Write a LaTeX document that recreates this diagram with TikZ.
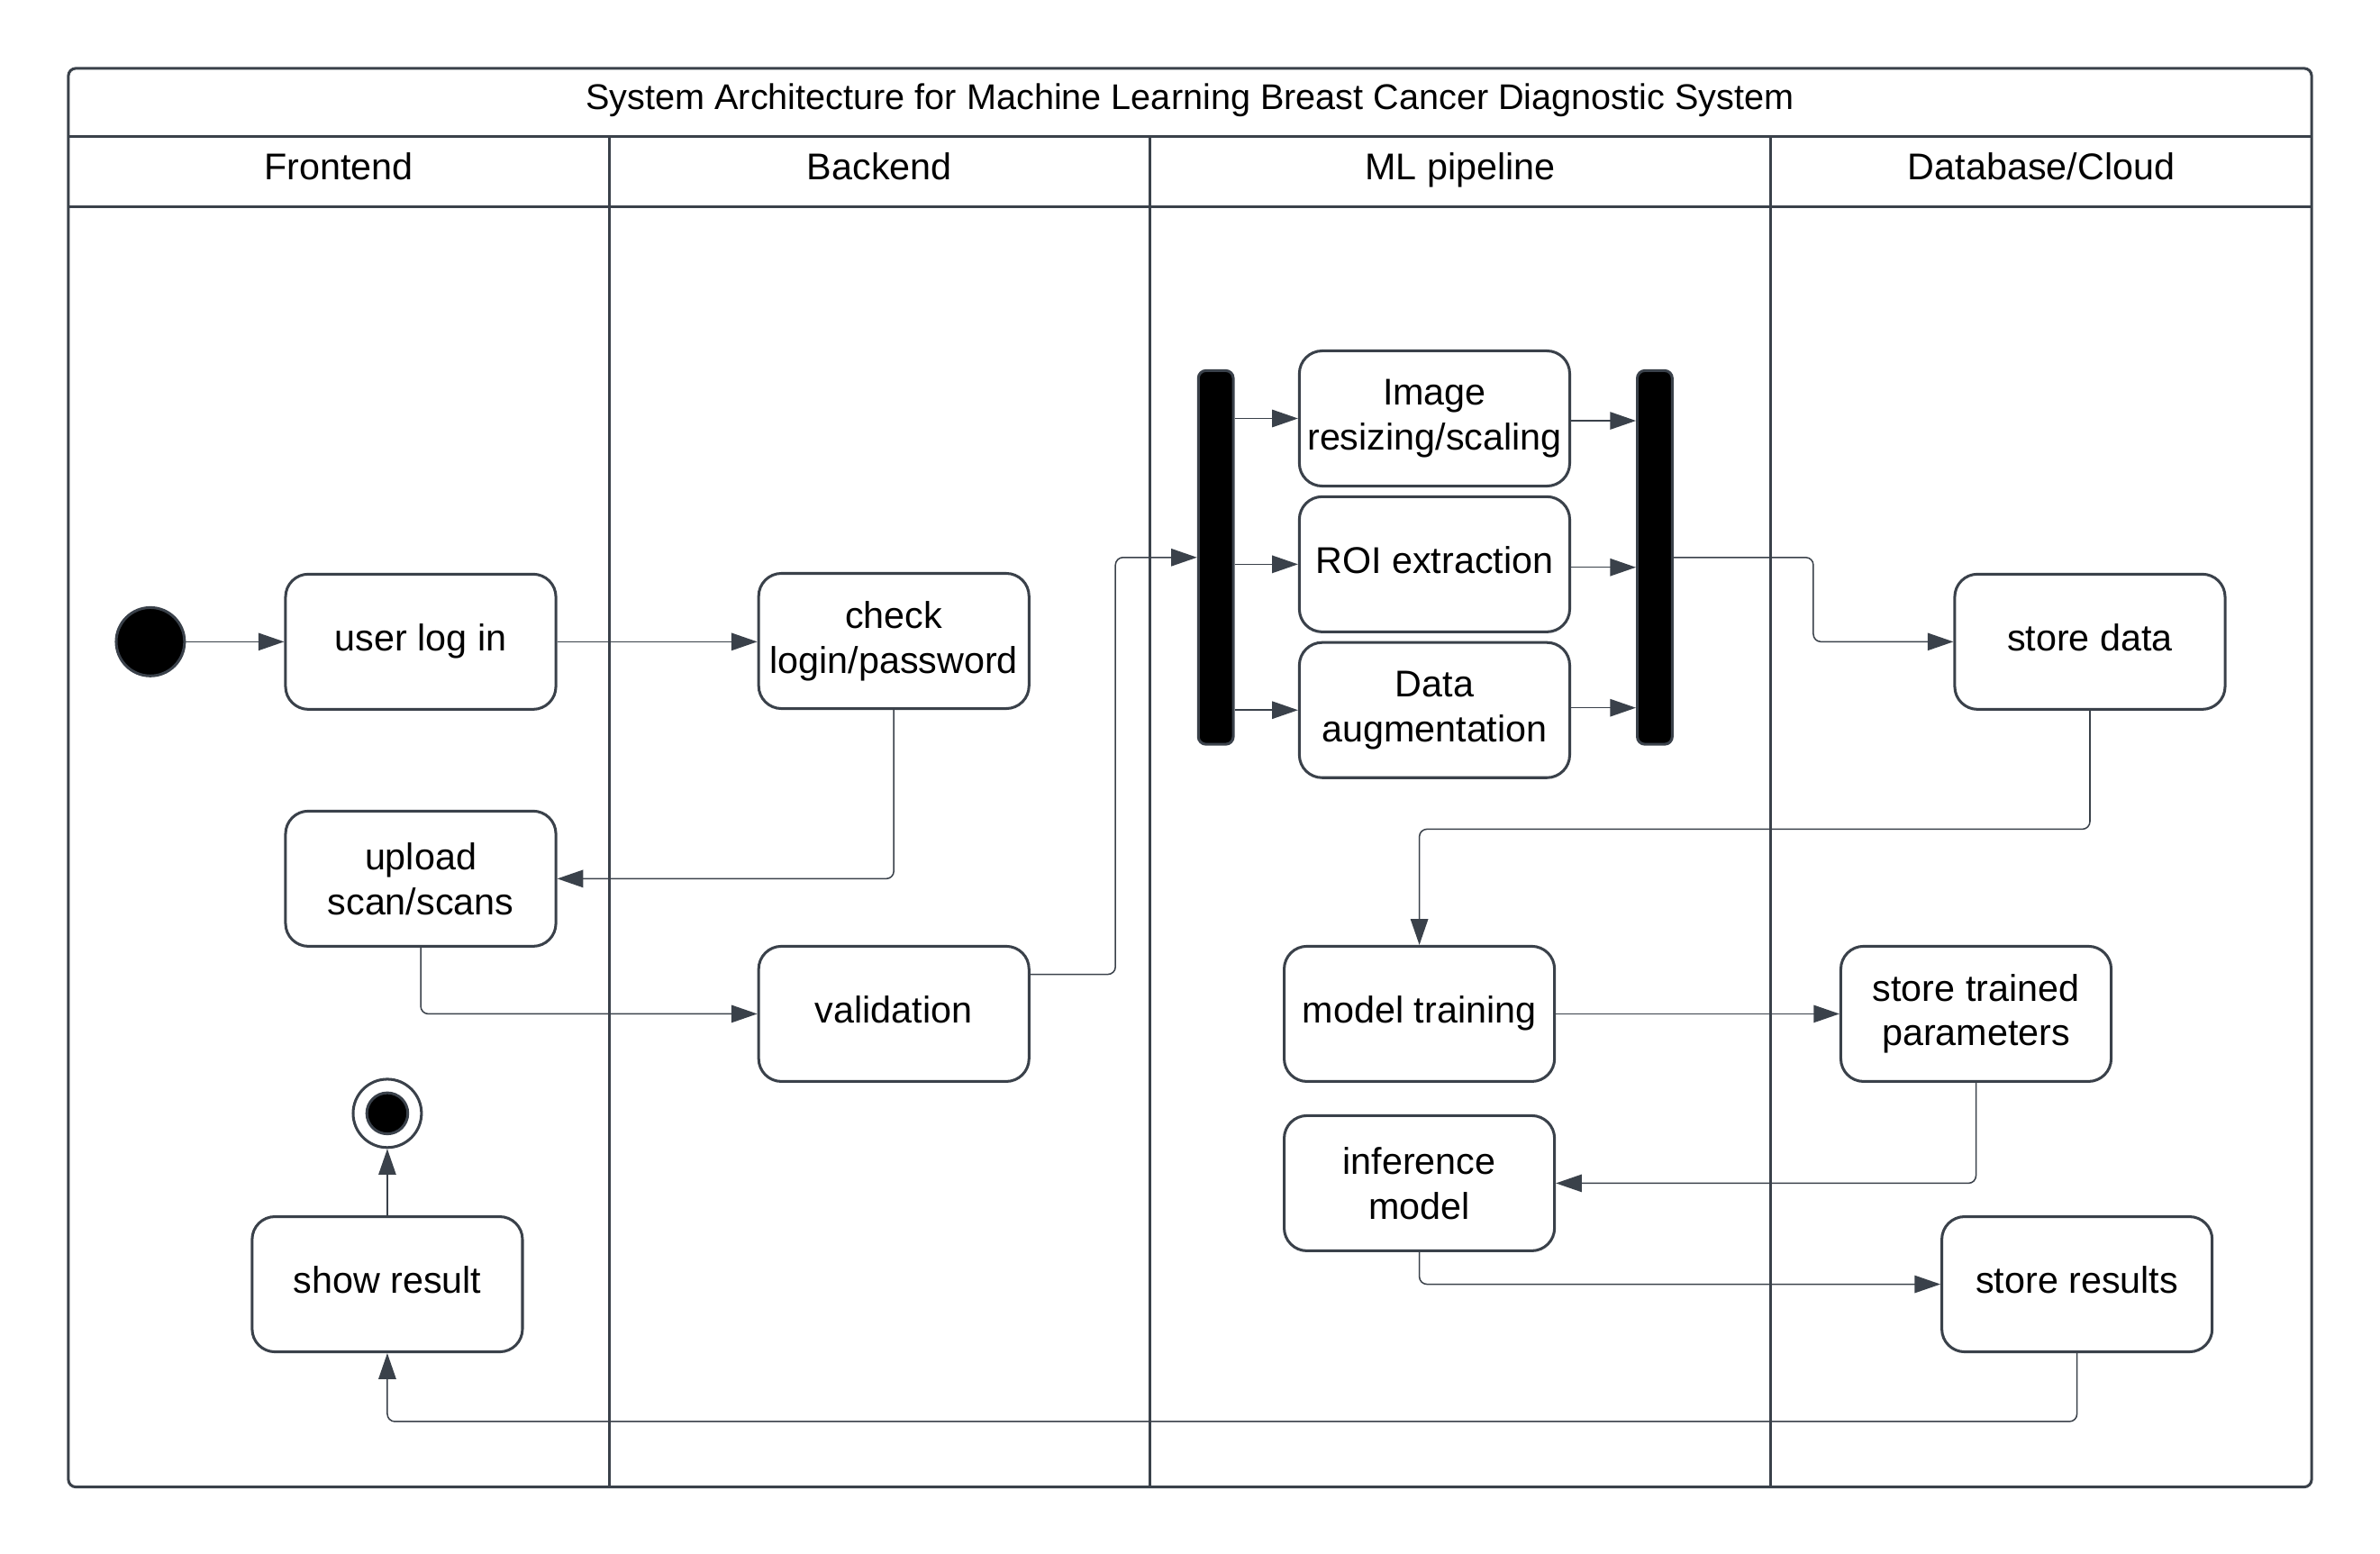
\documentclass[tikz,border=0pt]{standalone}
\usepackage{fontspec}
\setmainfont{Liberation Sans}
\usetikzlibrary{arrows.meta,calc}
\definecolor{lc}{HTML}{3A414A}
\begin{document}
\begin{tikzpicture}[x=1pt,y=-1pt,
  every node/.style={font=\fontsize{24.5}{29.5}\selectfont, text=black},
  box/.style={draw=lc, line width=1.8pt, rounded corners=15pt, minimum width=178pt, minimum height=89pt, align=center, fill=white, inner sep=2pt},
  one/.style={text height=17.5pt, text depth=5.5pt},
  bar/.style={draw=lc, line width=1.8pt, fill=black, rounded corners=5pt, minimum width=23pt, minimum height=246pt, inner sep=0pt},
  conn/.style={draw=lc, line width=0.9pt, rounded corners=5pt, -{Triangle[length=17pt,width=11.5pt]}},
  lane/.style={draw=lc, line width=1.8pt},
  hdr/.style={inner sep=0pt, text height=17.5pt, text depth=5pt}]
\useasboundingbox (0,0) rectangle (1567,1023.1);
% frame
\draw[lane, rounded corners=5pt] (45,45) rectangle (1522,979);
\draw[lane] (45,90) -- (1522,90);
\draw[lane] (45,136) -- (1522,136);
\draw[lane] (401,90) -- (401,979);
\draw[lane] (757,90) -- (757,979);
\draw[lane] (1166,90) -- (1166,979);
\node[hdr, font=\fontsize{23.5}{28}\selectfont] (title) at (783.5,66) {System Architecture for Machine Learning Breast Cancer Diagnostic System};
\node[hdr] (h1) at (223,112) {Frontend};
\node[hdr] (h2) at (579,112) {Backend};
\node[hdr] (h3) at (961.5,112) {ML pipeline};
\node[hdr] (h4) at (1344,112) {Database/Cloud};
% nodes
\node[circle, fill=black, draw=lc, line width=1.8pt, minimum size=45pt, inner sep=0pt] (start) at (99,422.5) {};
\node[box, one] (login) at (277,422.5) {user log in};
\node[box] (check) at (588.5,422) {check\\login/password};
\node[box] (upload) at (277,578.5) {upload\\scan/scans};
\node[box, one] (val) at (588.5,667.5) {validation};
\node[circle, draw=lc, line width=1.8pt, fill=white, minimum size=45pt, inner sep=0pt] (final) at (255,733) {};
\node[circle, draw=lc, line width=1.8pt, fill=black, minimum size=27pt, inner sep=0pt] (finalin) at (final.center) {};
\node[box, one] (show) at (255,845.5) {show result};
\node[bar] (bar1) at (800.5,367) {};
\node[box] (img) at (944.5,275.5) {Image\\resizing/scaling};
\node[box, one] (roi) at (944.5,371.5) {ROI extraction};
\node[box] (aug) at (944.5,467.5) {Data\\augmentation};
\node[bar] (bar2) at (1089.5,367) {};
\node[box, one] (sd) at (1376,422.5) {store data};
\node[box, one] (mt) at (934.5,667.5) {model training};
\node[box] (stp) at (1301,667.5) {store trained\\parameters};
\node[box] (inf) at (934.5,779) {inference\\model};
\node[box, one] (sr) at (1367.5,845.5) {store results};
% connectors
\draw[conn] (start) -- (login);
\draw[conn] (login) -- (check.west |- login.east);
\draw[conn] (check.south) |- (upload.east);
\draw[conn] (upload.south) |- (val.west);
\draw[conn] ([yshift=26pt]val.east) -- ++(56,0) |- (bar1.west);
\draw[conn] (bar1.east |- img.west) -- (img.west);
\draw[conn] (bar1.east |- roi.west) -- (roi.west);
\draw[conn] (bar1.east |- aug.west) -- (aug.west);
\draw[conn] ([yshift=-1.5pt]img.east) -- ([yshift=-1.5pt]bar2.west |- img.east);
\draw[conn] ([yshift=-2pt]roi.east) -- ([yshift=-2pt]bar2.west |- roi.east);
\draw[conn] ([yshift=1.5pt]aug.east) -- ([yshift=1.5pt]bar2.west |- aug.east);
\draw[conn] (bar2.east) -- ++(92,0) |- (sd.west);
\draw[conn] (sd.south) -- ++(0,78) -| (mt.north);
\draw[conn] (mt.east) -- (stp.west);
\draw[conn] (stp.south) |- (inf.east);
\draw[conn] (inf.south) |- (sr.west);
\draw[conn] (sr.south) -- ++(0,45) -| (show.south);
\draw[conn] (show.north) -- (final.south);
\end{tikzpicture}
\end{document}
